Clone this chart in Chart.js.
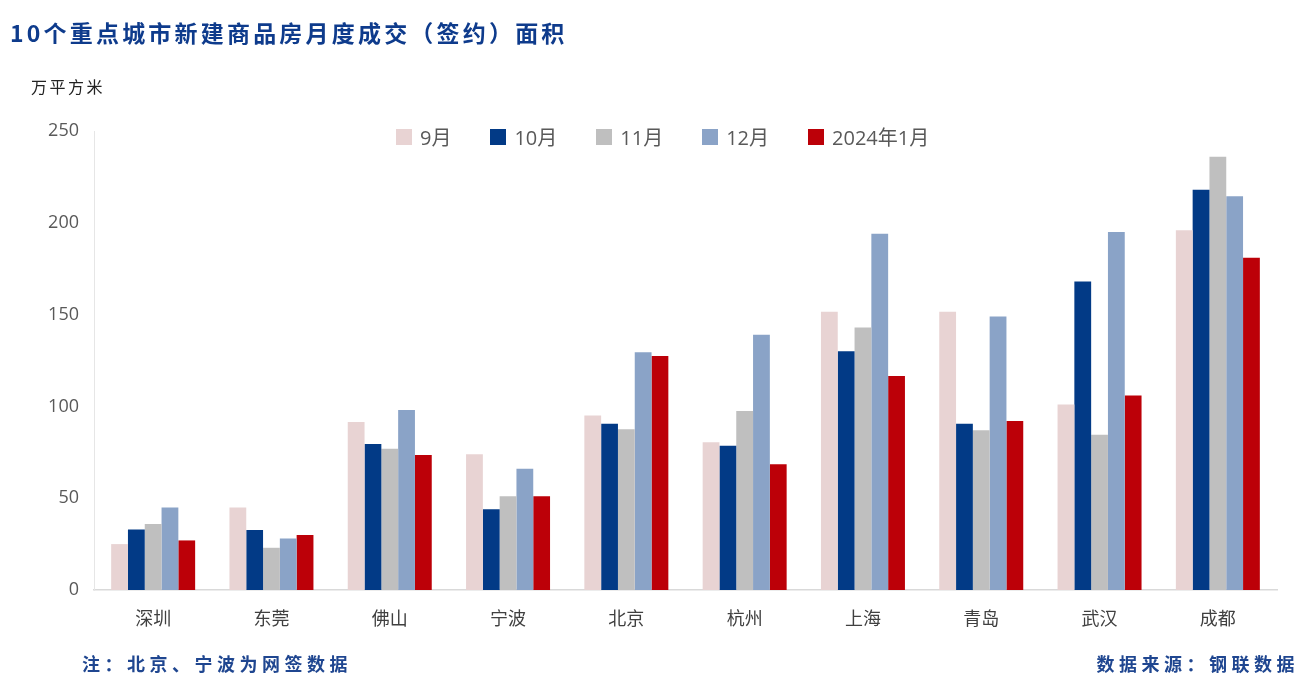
<!DOCTYPE html>
<html>
<head>
<meta charset="utf-8">
<script src="https://cdn.jsdelivr.net/npm/chart.js@4"></script>
<style>
  html, body { margin: 0; padding: 0; background: #fff; }
  #wrap { position: relative; width: 1302px; height: 687px; }
  #title { position: absolute; left: 10px; top: 15px; font: bold 23px "Noto Sans CJK SC", sans-serif; letter-spacing: 3.2px; color: #0E3B8C; }
  #unit { position: absolute; left: 31px; top: 74px; font: 16px "Noto Sans CJK SC", sans-serif; letter-spacing: 2.5px; color: #222; }
  #legend { position: absolute; left: 396px; top: 122px; display: flex; font: 20px "Open Sans", "Noto Sans CJK SC", sans-serif; color: #595959; }
  #legend span.item { display: flex; align-items: center; margin-right: 39px; }
  #legend span.box { width: 16px; height: 16px; margin-right: 8px; display: inline-block; }
  .foot { position: absolute; top: 650px; font: bold 18px "Noto Sans CJK SC", sans-serif; letter-spacing: 4.5px; color: #1F4690; }
  #note { left: 82px; }
  #src { right: 3px; }
</style>
</head>
<body>
<div id="wrap">
  <canvas id="c" width="1302" height="687"></canvas>
  <div id="title">10个重点城市新建商品房月度成交（签约）面积</div>
  <div id="unit">万平方米</div>
  <div id="legend"></div>
  <div class="foot" id="note">注：北京、宁波为网签数据</div>
  <div class="foot" id="src">数据来源：钢联数据</div>
</div>
<script>
  const cities = ['深圳', '东莞', '佛山', '宁波', '北京', '杭州', '上海', '青岛', '武汉', '成都'];
  const seriesNames = ['9月', '10月', '11月', '12月', '2024年1月'];
  const sep = [25, 45, 91.5, 74, 95, 80.5, 151.5, 151.5, 101, 196];
  const oct = [33, 32.7, 79.5, 44, 90.5, 78.5, 130, 90.5, 168, 218];
  const nov = [36, 23, 77, 51, 87.5, 97.5, 143, 87, 84.5, 236];
  const dec = [45, 28, 98, 66, 129.5, 139, 194, 149, 195, 214.5];
  const jan = [27, 30, 73.5, 51, 127.5, 68.5, 116.5, 92, 106, 181];
  const yTicks = [0, 50, 100, 150, 200, 250];
  const colors = ['#E8D3D3', '#023A86', '#BFBFBF', '#8AA3C7', '#BC0008'];

  const values = [sep, oct, nov, dec, jan];

  // html legend
  const legend = document.getElementById('legend');
  seriesNames.forEach((name, i) => {
    const item = document.createElement('span');
    item.className = 'item';
    item.innerHTML = '<span class="box" style="background:' + colors[i] + '"></span>' + name;
    legend.appendChild(item);
  });

  const ctx = document.getElementById('c').getContext('2d');
  new Chart(ctx, {
    type: 'bar',
    data: {
      labels: cities,
      datasets: seriesNames.map((name, i) => ({
        label: name,
        data: values[i],
        backgroundColor: colors[i],
        borderWidth: 0,
        categoryPercentage: 0.71,
        barPercentage: 1
      }))
    },
    options: {
      responsive: false,
      animation: false,
      layout: { padding: { top: 131, right: 25, left: 0, bottom: 0 } },
      plugins: { legend: { display: false }, tooltip: { enabled: false } },
      scales: {
        x: {
          grid: { display: false, drawTicks: false },
          border: { display: true, color: '#D9D9D9', width: 1.5 },
          ticks: { color: '#404040', padding: 17, font: { size: 18, family: '"Noto Sans CJK SC", sans-serif' } },
          afterFit: (s) => { s.height = 97; }
        },
        y: {
          min: 0,
          max: 250,
          afterBuildTicks: (s) => { s.ticks = yTicks.map(v => ({ value: v })); },
          grid: { display: false, drawTicks: false },
          border: { display: true, color: '#E6E6E6', width: 1 },
          ticks: { color: '#595959', padding: 15, font: { size: 18, family: '"Open Sans", sans-serif' } },
          afterFit: (s) => { s.width = 94; }
        }
      }
    }
  });
</script>
</body>
</html>
